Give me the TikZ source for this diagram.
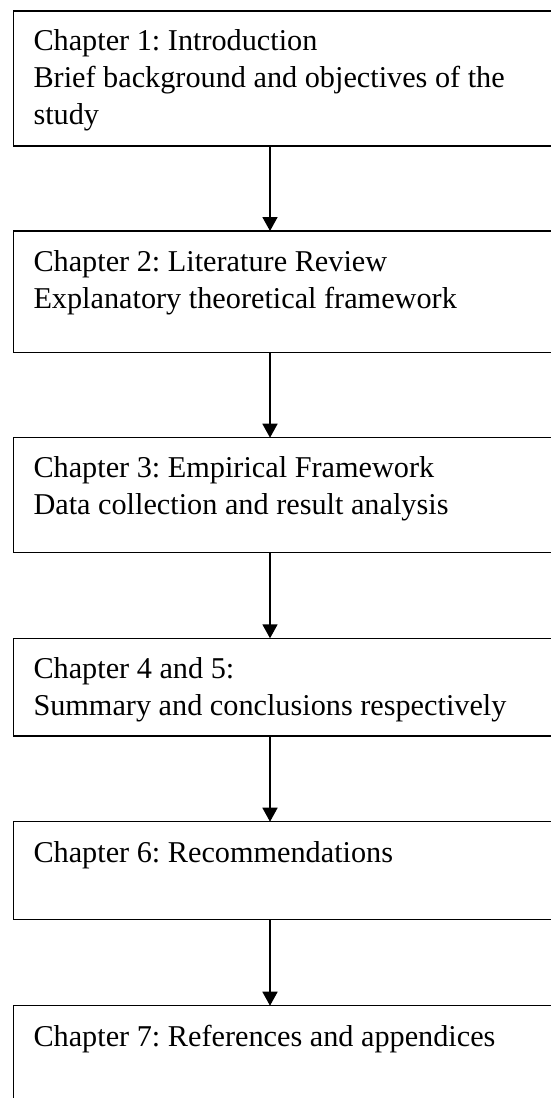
\documentclass[tikz,border=0pt]{standalone}
\usepackage{fontspec}
\setmainfont{Liberation Serif}
\frenchspacing
\usetikzlibrary{arrows.meta,calc}
\begin{document}
\begin{tikzpicture}[x=1pt,y=1pt,
  chapbox/.style={draw=black, line width=1.1pt, rectangle, outer sep=0pt,
    inner sep=0pt, minimum width=546.5pt, anchor=north west},
  chaptext/.style={anchor=base west, inner sep=0pt,
    font=\fontsize{30.25}{37}\selectfont},
  flow/.style={line width=1.8pt, -{Triangle[length=14pt,width=15pt]}}]
  \clip (0,0) rectangle (551,-1098);
  \fill[white] (0,0) rectangle (551,-1098);
  \coordinate (axis) at (270,0);

  % chapter boxes (right edges run past the page)
  \node[chapbox, minimum height=135pt]   (b1) at (13.5,-11) {};
  \node[chapbox, minimum height=121.7pt] (b2) at (13.5,-231) {};
  \node[chapbox, minimum height=115pt]   (b3) at (13.5,-437.7) {};
  \node[chapbox, minimum height=97.7pt]  (b4) at (13.5,-638.3) {};
  \node[chapbox, minimum height=97.6pt]  (b5) at (13.5,-821.7) {};
  \node[chapbox, minimum height=110pt]   (b6) at (13.5,-1005.7) {};

  % box contents
  \node[chaptext] (t1) at ($(b1.north west)+(19.8,-39.5)$)
    {\begin{tabular}[t]{@{}l@{}}Chapter 1: Introduction\\Brief background and objectives of the\\study\end{tabular}};
  \node[chaptext] (t2) at ($(b2.north west)+(19.8,-40.5)$)
    {\begin{tabular}[t]{@{}l@{}}Chapter 2: Literature Review\\Explanatory theoretical framework\end{tabular}};
  \node[chaptext] (t3) at ($(b3.north west)+(19.8,-40)$)
    {\begin{tabular}[t]{@{}l@{}}Chapter 3: Empirical Framework\\Data collection and result analysis\end{tabular}};
  \node[chaptext] (t4) at ($(b4.north west)+(19.8,-40)$)
    {\begin{tabular}[t]{@{}l@{}}Chapter 4 and 5:\\Summary and conclusions respectively\end{tabular}};
  \node[chaptext] (t5) at ($(b5.north west)+(19.8,-41)$)
    {Chapter 6: Recommendations};
  \node[chaptext] (t6) at ($(b6.north west)+(19.8,-41)$)
    {Chapter 7: References and appendices};

  % connectors
  \draw[flow] (b1.south -| axis) -- (b2.north -| axis);
  \draw[flow] (b2.south -| axis) -- (b3.north -| axis);
  \draw[flow] (b3.south -| axis) -- (b4.north -| axis);
  \draw[flow] (b4.south -| axis) -- (b5.north -| axis);
  \draw[flow] (b5.south -| axis) -- (b6.north -| axis);
\end{tikzpicture}
\end{document}
